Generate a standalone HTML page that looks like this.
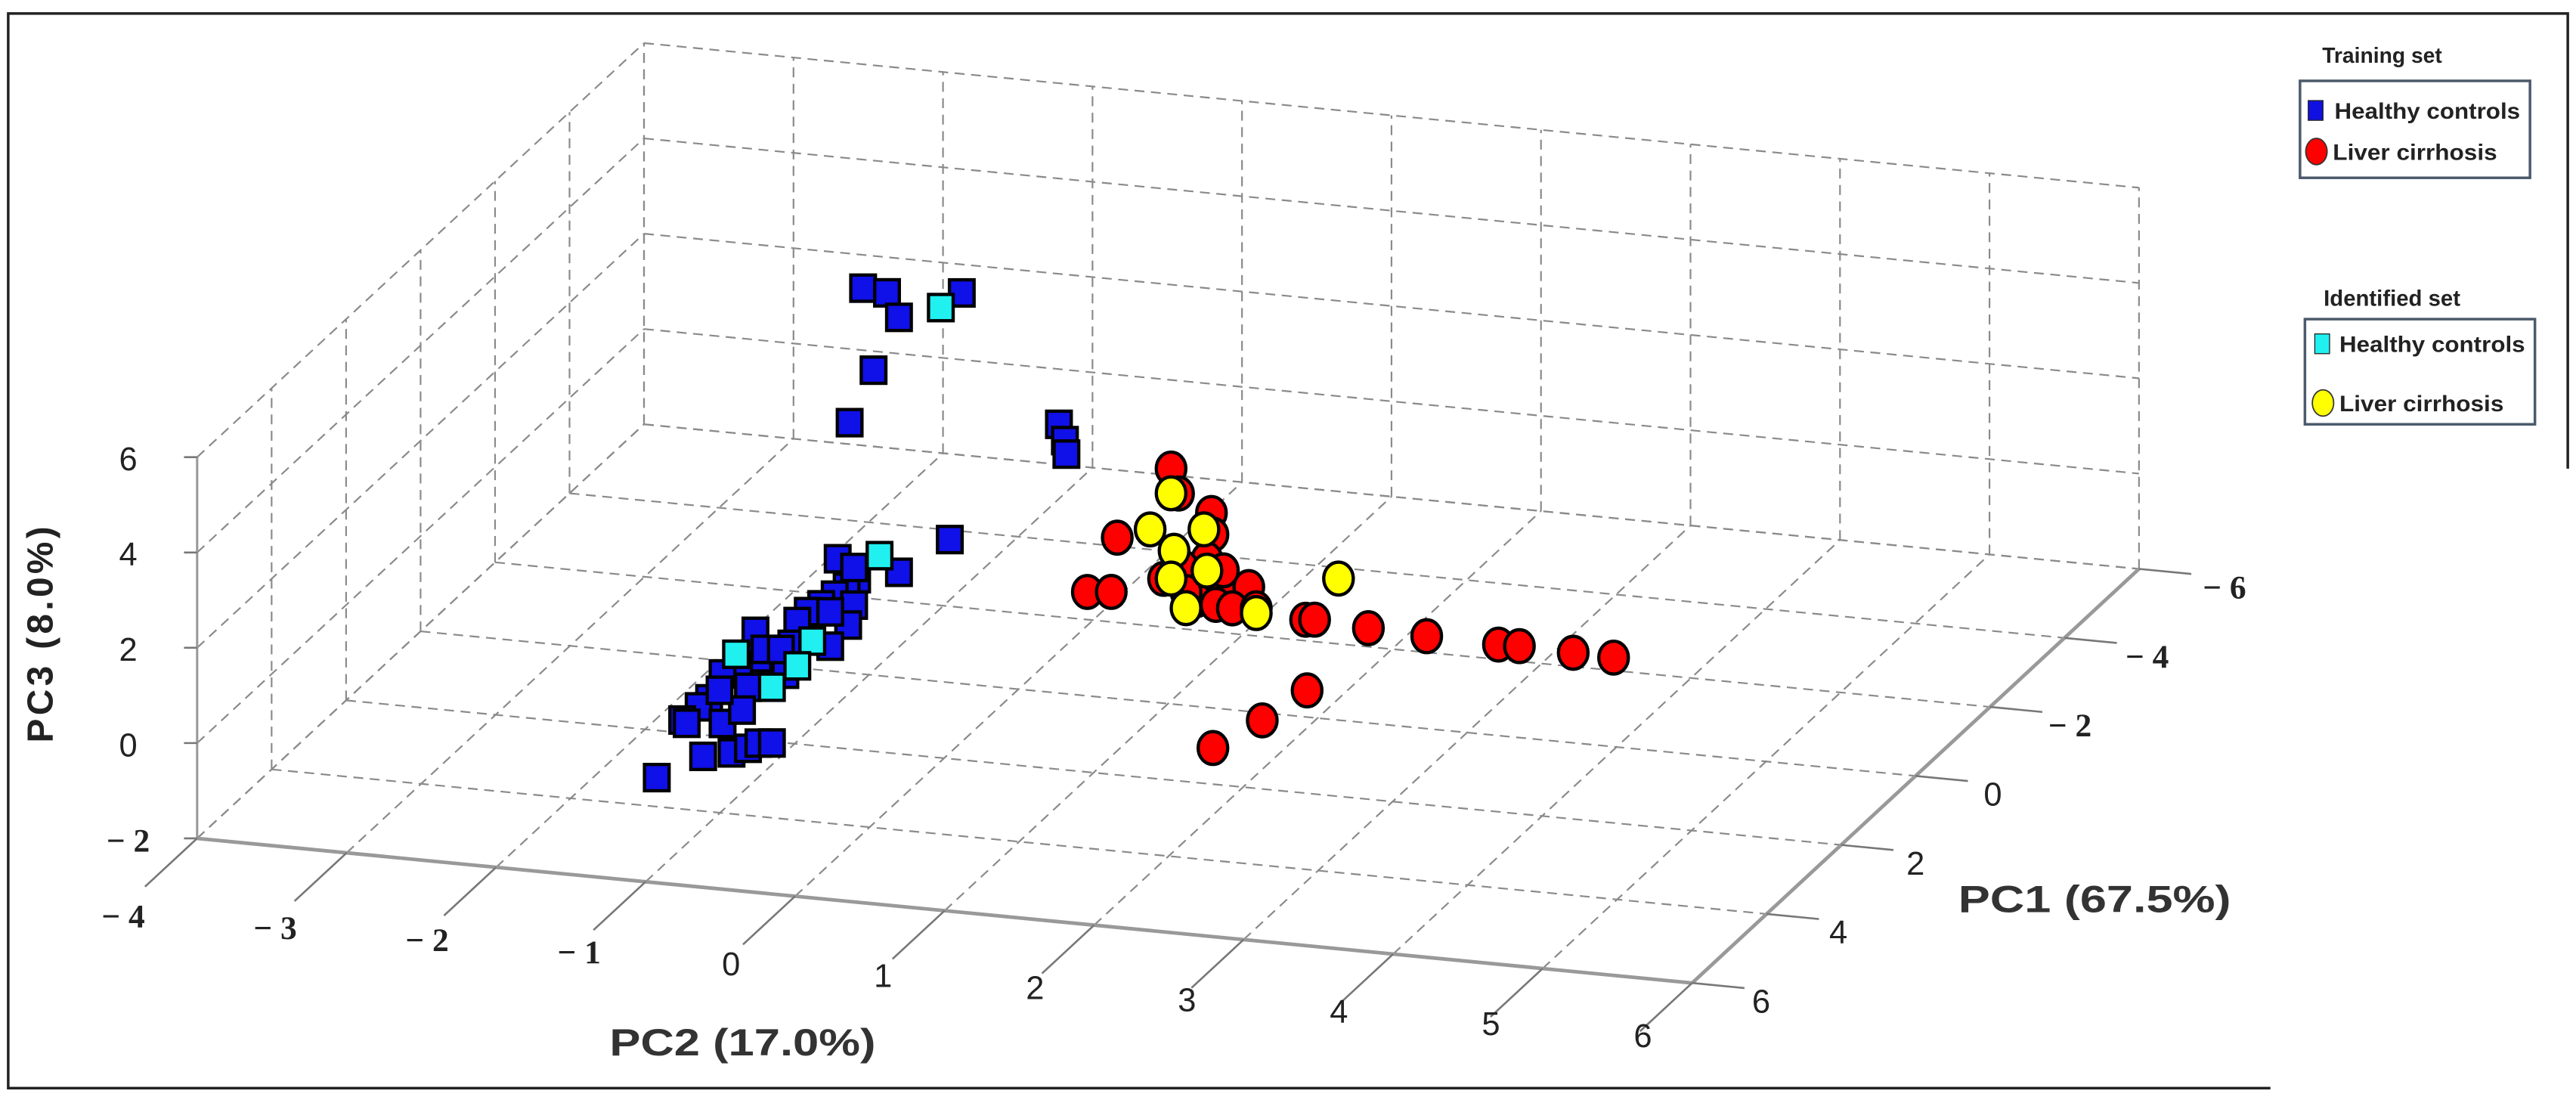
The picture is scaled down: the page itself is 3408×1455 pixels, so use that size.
<!DOCTYPE html>
<html><head><meta charset="utf-8"><style>
html,body{margin:0;padding:0;background:#fff;}
svg{display:block;}
</style></head><body>
<svg id="chart" width="3408" height="1455" viewBox="0 0 1568 669" xmlns="http://www.w3.org/2000/svg" font-family="'Liberation Sans', sans-serif">
<rect x="5" y="8" width="1558" height="654" fill="none" stroke="#222" stroke-width="1.6"/>
<g id="grid"></g>
<g id="axes"></g>
<g id="points"></g>
<rect x="1382" y="285" width="186" height="384" fill="#fff"/>
<text transform="translate(32,385) rotate(-90)" text-anchor="middle" font-size="22" font-weight="bold" letter-spacing="2" fill="#222">PC3 (8.0%)</text>
<text x="452" y="642" text-anchor="middle" font-size="23" font-weight="bold" fill="#333" textLength="162" lengthAdjust="spacingAndGlyphs">PC2 (17.0%)</text>
<text x="1275" y="555" text-anchor="middle" font-size="23" font-weight="bold" fill="#333" textLength="166" lengthAdjust="spacingAndGlyphs">PC1 (67.5%)</text>
<g>
<text x="1450" y="38" text-anchor="middle" font-size="13" font-weight="bold" fill="#222">Training set</text>
<rect x="1400" y="49" width="140" height="59" fill="#fff" stroke="#4b5a6b" stroke-width="1.6"/>
<g>
<rect x="1405" y="61" width="9" height="12" fill="#1010e0" stroke="#222" stroke-width="0.6"/>
<text x="1421" y="72" font-size="13.5" font-weight="bold" fill="#222" textLength="113" lengthAdjust="spacingAndGlyphs">Healthy controls</text></g>
<g>
<ellipse cx="1410" cy="92" rx="6.5" ry="8" fill="#f00" stroke="#333" stroke-width="0.8"/>
<text x="1420" y="97" font-size="13.5" font-weight="bold" fill="#222" textLength="100" lengthAdjust="spacingAndGlyphs">Liver cirrhosis</text></g>
</g>
<g>
<text x="1456" y="186" text-anchor="middle" font-size="13.5" font-weight="bold" fill="#222">Identified set</text>
<rect x="1403" y="194" width="140" height="64" fill="#fff" stroke="#4b5a6b" stroke-width="1.6"/>
<g>
<rect x="1409" y="203" width="9" height="12" fill="#20f0f0" stroke="#222" stroke-width="0.6"/>
<text x="1424" y="214" font-size="13.5" font-weight="bold" fill="#222" textLength="113" lengthAdjust="spacingAndGlyphs">Healthy controls</text></g>
<g>
<ellipse cx="1414" cy="245" rx="6.5" ry="8" fill="#ff0" stroke="#333" stroke-width="0.8"/>
<text x="1424" y="250" font-size="13.5" font-weight="bold" fill="#222" textLength="100" lengthAdjust="spacingAndGlyphs">Liver cirrhosis</text></g>
</g>
</svg>
<script>
const pc2Ticks = [-4,-3,-2,-1,0,1,2,3,4,5,6];
const pc2TickLabels = ["− 4","− 3","− 2","− 1","0","1","2","3","4","5","6"];
const pc1Ticks = [6,4,2,0,-2,-4,-6];
const pc1TickLabels = ["6","4","2","0","− 2","− 4","− 6"];
const pc3Ticks = [-2,0,2,4,6];
const pc3TickLabels = ["− 2","0","2","4","6"];

const healthyPC2 = [-1.04,-0.88,-0.80,-0.38,-0.97,-1.13,0.27,0.31,0.32,-0.46,-0.80,-1.08,-1.15,-1.23,-1.32,-1.41,-1.48,-1.10,-1.14,-1.26,-1.52,-1.65,-1.76,-1.74,-1.87,-1.56,-1.81,-1.98,-2.07,-2.14,-2.25,-2.22,-1.98,-1.85,-2.11,-1.92,-1.81,-1.74,-1.65,-2.42,-1.70,-1.59,-1.21,-1.10,-2.00,-1.26];
const healthyPC1 = [0,0,0,0,0,0,0,0,0,0,0,0,0,0,0,0,0,0,0,0,0,0,0,0,0,0,0,0,0,0,0,0,0,0,0,0,0,0,0,0,0,0,0,0,0,0];
const healthyPC3 = [6.10,6.05,5.56,6.20,4.40,3.25,3.64,3.31,3.03,1.00,0.21,-0.01,-0.21,-0.40,-0.63,-0.80,-1.03,-0.57,-1.00,-1.48,-1.52,-1.77,-1.32,-1.87,-2.08,-2.16,-2.51,-2.28,-2.83,-3.02,-3.33,-3.39,-3.32,-3.00,-4.05,-3.92,-3.79,-3.66,-3.63,-4.59,-1.68,-1.65,0.37,0.22,-2.63,-0.76];

const idHealthyPC2 = [-0.52,-0.93,-1.38,-1.89,-1.48,-1.65];
const idHealthyPC1 = [0,0,0,0,0,0];
const idHealthyPC3 = [5.85,0.52,-1.41,-1.84,-1.96,-2.46];

const cirrhosisPC2 = [1.02,1.07,1.29,0.66,1.30,1.26,1.10,1.26,1.37,1.54,0.97,1.19,1.32,1.43,1.59,0.46,0.62,1.92,1.98,2.34,2.73,3.21,3.35,3.71,3.98,1.93,1.63,1.30,1.37,1.12];
const cirrhosisPC1 = [0,0,0,0,0,0,0,0,0,0,0,0,0,0,0,0,0,0,0,0,0,0,0,0,0,0,0,0,0,0];
const cirrhosisPC3 = [2.94,2.43,2.09,1.38,1.64,1.11,0.89,0.60,0.46,0.61,0.61,0.23,0.17,0.13,0.18,0.18,0.23,0.04,0.06,-0.01,-0.06,-0.09,-0.08,-0.11,-0.13,-1.44,-2.16,-2.84,0.91,0.38];

const idCirrhosisPC2 = [1.02,0.88,1.24,1.04,1.02,1.26,2.14,1.12,1.59];
const idCirrhosisPC1 = [0,0,0,0,0,0,0,0,0];
const idCirrhosisPC3 = [2.42,1.62,1.73,1.22,0.63,0.87,0.97,0.04,0.08];

function proj(pc2, pc1, pc3){
  const a = pc2 + 4, u = 6 - pc1, c = pc3 + 2;
  return [120 + 91*a + 22.667*u, 510 + 8.8*a - 21*u - 29*c];
}
const NS = 'http://www.w3.org/2000/svg';
function mk(tag, parent, attrs){
  const e = document.createElementNS(NS, tag);
  for (const k in attrs) e.setAttribute(k, attrs[k]);
  parent.appendChild(e);
  return e;
}
const grid = document.getElementById('grid');
const axes = document.getElementById('axes');
const pts = document.getElementById('points');
const dash = {stroke:'#8a8a8a','stroke-width':1,'stroke-dasharray':'6,4',fill:'none'};
function line(parent, p, q, st){
  return mk('line', parent, Object.assign({x1:p[0],y1:p[1],x2:q[0],y2:q[1]}, st));
}
pc2Ticks.forEach(t=>{
  const l = line(grid, proj(t,-6,-2), proj(t,-6,6), dash);
  
  
});
pc3Ticks.forEach(t=>{
  const l = line(grid, proj(-4,-6,t), proj(6,-6,t), dash);
  
  
});
pc1Ticks.forEach(t=>{
  const l = line(grid, proj(-4,t,-2), proj(-4,t,6), dash);
  
  
});
pc3Ticks.forEach(t=>{
  const l = line(grid, proj(-4,6,t), proj(-4,-6,t), dash);
  
  
});
pc2Ticks.forEach(t=>{
  const l = line(grid, proj(t,6,-2), proj(t,-6,-2), dash);
  
  
});
pc1Ticks.forEach(t=>{
  const l = line(grid, proj(-4,t,-2), proj(6,t,-2), dash);
  
  
});
const axSt = {stroke:'#999','stroke-width':2.2};
let ax = line(axes, proj(-4,6,-2), proj(6,6,-2), axSt);


ax = line(axes, proj(6,6,-2), proj(6,-6,-2), axSt);


ax = line(axes, proj(-4,6,-2), proj(-4,6,6), {stroke:'#999','stroke-width':1.4});


const tickSt = {stroke:'#777','stroke-width':1.2};
function lbl(txt, x, y, name){
  const neg = txt.indexOf('−') >= 0;
  const t = mk('text', axes, {x:x, y:y, 'text-anchor':'middle','font-size':20,fill:'#222',
    'font-family': neg ? "'Liberation Serif', serif" : "'Liberation Sans', sans-serif",
    'font-weight': neg ? 'bold' : 'normal'});
  t.textContent = txt;
  
  
}
pc2Ticks.forEach((t,i)=>{
  const p = proj(t,6,-2), q = proj(t,7.4,-2);
  const tk = line(axes, p, q, tickSt);
  
  
  const f = i/(pc2Ticks.length-1);
  lbl(pc2TickLabels[i], p[0] - 45 + 15*f, p[1] + 54 - 15*f, 'pc2-tick-label');
});
pc1Ticks.forEach((t,i)=>{
  const p = proj(6,t,-2), q = proj(6.35,t,-2);
  const tk = line(axes, p, q, tickSt);
  
  
  const f = i/(pc1Ticks.length-1);
  lbl(pc1TickLabels[i], p[0] + 42 + 10*f, p[1] + 18, 'pc1-tick-label');
});
pc3Ticks.forEach((t,i)=>{
  const p = proj(-4,6,t);
  const tk = line(axes, p, [p[0]-8,p[1]], tickSt);
  
  
  lbl(pc3TickLabels[i], p[0] - 42, p[1] + 8, 'pc3-tick-label');
});
function squares(a2, a1, a3, fill, name){
  a2.forEach((v,i)=>{
    const p = proj(v, a1[i], a3[i]);
    const r = mk('rect', pts, {x:p[0]-7.5, y:p[1]-8, width:15, height:16, fill:fill, stroke:'#000','stroke-width':2});
    
    
  });
}
function circles(a2, a1, a3, fill, name){
  a2.forEach((v,i)=>{
    const p = proj(v, a1[i], a3[i]);
    const c = mk('ellipse', pts, {cx:p[0], cy:p[1], rx:9, ry:10, fill:fill, stroke:'#000','stroke-width':2});
    
    
  });
}
squares(healthyPC2, healthyPC1, healthyPC3, '#1010e8', 'point-healthy-training');
squares(idHealthyPC2, idHealthyPC1, idHealthyPC3, '#20f0f0', 'point-healthy-identified');
circles(cirrhosisPC2, cirrhosisPC1, cirrhosisPC3, '#ff0000', 'point-cirrhosis-training');
circles(idCirrhosisPC2, idCirrhosisPC1, idCirrhosisPC3, '#ffff00', 'point-cirrhosis-identified');
</script>
</body></html>
